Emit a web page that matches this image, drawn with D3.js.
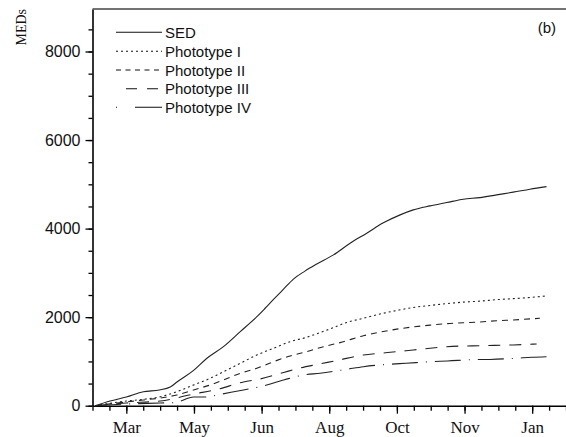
<!DOCTYPE html>
<html>
<head>
<meta charset="utf-8">
<script src="https://cdn.jsdelivr.net/npm/d3@7"></script>
<style>
  body { margin: 0; background: #fff; }
  svg { display: block; }
  .tick text { fill: #111; }
</style>
</head>
<body>
<div class="chart"></div>
<script>
var svgWidth = 566;
var svgHeight = 437;

// x is day of year (Jan 1 = 1, next January continues past 365)
var monthDays = [75, 125, 175, 225, 275, 325, 375];
var monthLabels = ["Mar", "May", "Jun", "Aug", "Oct", "Nov", "Jan"];
var yTicks = [0, 2000, 4000, 6000, 8000];

var seriesNames = ["SED", "Phototype I", "Phototype II", "Phototype III", "Phototype IV"];

var sed = [
  [52, 0], [63, 106], [75, 197], [87.6, 316], [99.4, 355], [107.5, 420], [112.7, 542],
  [124.5, 791], [134.6, 1071], [146.8, 1333], [159.2, 1672], [171.5, 2011], [177.6, 2201],
  [183.8, 2400], [191.2, 2632], [198.5, 2860], [207, 3040], [215.8, 3200], [228.1, 3406],
  [240.4, 3670], [252.7, 3896], [265, 4130], [277.4, 4310], [287.1, 4423], [299.5, 4513],
  [311.8, 4588], [324.1, 4664], [336.4, 4700], [348.7, 4762], [361, 4823], [373.3, 4890],
  [385.6, 4949]
];
var typeI = [
  [52, 0], [75, 106], [87.8, 145], [100.1, 203], [112.4, 316], [124.7, 468], [137, 619],
  [146.8, 768], [159.2, 958], [171.5, 1146], [183.8, 1297], [196.1, 1446], [208.4, 1546],
  [213.3, 1598], [225.6, 1733], [237.9, 1880], [250.2, 1975], [262.5, 2072], [274.9, 2151],
  [287.1, 2219], [299.5, 2264], [311.8, 2305], [324.1, 2339], [336.4, 2362], [348.7, 2395],
  [361, 2418], [373.3, 2445], [385.6, 2479]
];
var typeII = [
  [52, 0], [75, 84], [87.8, 129], [100.1, 174], [112.4, 242], [124.7, 355], [137, 468],
  [146.8, 581], [159.2, 732], [171.5, 845], [183.8, 994], [196.1, 1123], [208.4, 1220],
  [220.7, 1333], [233, 1424], [250.2, 1580], [262.5, 1661], [274.9, 1729], [287.1, 1779],
  [299.5, 1819], [311.8, 1853], [324.1, 1873], [336.4, 1892], [348.7, 1919], [361, 1937],
  [380.7, 1975]
];
var typeIII = [
  [52, 0], [75, 61], [100.1, 106], [124.7, 264], [142, 366], [161.6, 536], [173.9, 603],
  [191.2, 750], [203.5, 852], [215.8, 931], [230.6, 1021], [250.2, 1146], [262.5, 1184],
  [274.9, 1220], [287.1, 1259], [299.5, 1297], [311.8, 1333], [336.4, 1356], [361, 1372],
  [378.3, 1394]
];
var typeIV = [
  [52, 0], [75, 38], [100.1, 61], [111.2, 72], [124.7, 197], [134.6, 197], [142, 242],
  [161.6, 355], [173.9, 429], [191.2, 581], [206, 694], [218.2, 732], [238, 823],
  [250.2, 881], [269.4, 936], [281.7, 958], [300, 994], [312.5, 1010], [331.4, 1040],
  [343.8, 1045], [362.7, 1071], [374.6, 1094], [385.6, 1107]
];

var allSeries = [sed, typeI, typeII, typeIII, typeIV];
var plotDash = [null, "2,3", "6,5", "12,9", "26,8,1,8"];
var legendDash = [null, "2,3", "5,4.5", "11,10", "1,18,27,8"];
var legendOffset = [0, 0, 0, 11, 0];

var svg = d3.select(".chart")
  .append("svg")
  .attr("width", svgWidth)
  .attr("height", svgHeight);

var x = d3.scaleLinear().domain([50, 400]).range([92.5, 566]);
var y = d3.scaleLinear().domain([0, 8960]).range([405.7, 9]);

// minor ticks
var xMinor = d3.range(50, 400.1, 12.5);
var yMinor = d3.range(0, 8960, 500);

svg.append("g")
  .attr("transform", "translate(0,405.7)")
  .call(d3.axisBottom(x).tickValues(xMinor).tickSize(5).tickSizeOuter(0).tickFormat(""))
  .call(g => g.select(".domain").remove());
var xAxis = svg.append("g")
  .attr("transform", "translate(0,405.7)")
  .call(d3.axisBottom(x).tickValues(monthDays).tickSize(8).tickSizeOuter(0)
    .tickFormat((d, i) => monthLabels[i]));
xAxis.selectAll("text")
  .attr("font-family", "'Liberation Serif', 'Times New Roman', serif")
  .attr("font-size", "17px")
  .attr("dy", "0.95em");

svg.append("g")
  .attr("transform", "translate(92.5,0)")
  .call(d3.axisLeft(y).tickValues(yMinor).tickSize(4).tickSizeOuter(0).tickFormat(""))
  .call(g => g.select(".domain").remove());
var yAxis = svg.append("g")
  .attr("transform", "translate(92.5,0)")
  .call(d3.axisLeft(y).tickValues(yTicks).tickSize(7).tickSizeOuter(0).tickFormat(d3.format("d")));
yAxis.selectAll("text")
  .attr("font-family", "'Liberation Sans', Arial, sans-serif")
  .attr("font-size", "16px")
  .attr("x", -12);

svg.selectAll(".domain").attr("stroke", "#000").attr("stroke-width", 1.6);
svg.selectAll(".tick line").attr("stroke", "#000").attr("stroke-width", 1.3);

// top frame line
svg.append("line")
  .attr("x1", x(50)).attr("x2", x(400))
  .attr("y1", y(8960)).attr("y2", y(8960))
  .attr("stroke", "#444")
  .attr("stroke-width", 1.3);

// y axis title
svg.append("text")
  .attr("transform", "translate(25.5,9) rotate(-90)")
  .attr("text-anchor", "end")
  .attr("font-family", "'Liberation Serif', 'Times New Roman', serif")
  .attr("font-size", "14px")
  .attr("fill", "#111")
  .text("MEDs");

// panel tag
svg.append("text")
  .attr("x", 556).attr("y", 33)
  .attr("text-anchor", "end")
  .attr("font-family", "'Liberation Sans', Arial, sans-serif")
  .attr("font-size", "15px")
  .attr("fill", "#111")
  .text("(b)");

var line = d3.line()
  .x(d => x(d[0]))
  .y(d => y(d[1]))
  .curve(d3.curveMonotoneX);

svg.selectAll(".series")
  .data(allSeries)
  .enter()
  .append("path")
  .attr("class", "series")
  .attr("d", line)
  .attr("fill", "none")
  .attr("stroke", "#222")
  .attr("stroke-width", 1.1)
  .attr("stroke-dasharray", (d, i) => plotDash[i]);

// legend
var legend = svg.append("g");
var rowY = [32.3, 51.3, 70, 88.7, 107.3];
seriesNames.forEach(function(name, i) {
  legend.append("line")
    .attr("x1", 116).attr("x2", 162)
    .attr("y1", rowY[i]).attr("y2", rowY[i])
    .attr("stroke", "#111")
    .attr("stroke-width", 1.1)
    .attr("stroke-dasharray", legendDash[i])
    .attr("stroke-dashoffset", legendOffset[i]);
  legend.append("text")
    .attr("x", 165).attr("y", rowY[i] + 5.5)
    .attr("font-family", "'Liberation Sans', Arial, sans-serif")
    .attr("font-size", "15px")
    .attr("fill", "#111")
    .text(name);
});
</script>
</body>
</html>
